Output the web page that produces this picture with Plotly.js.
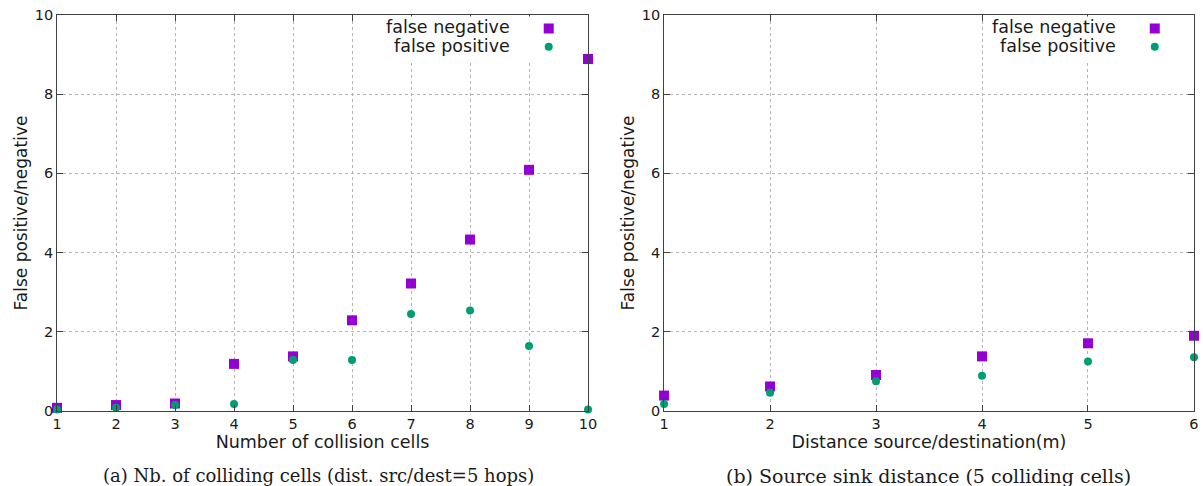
<!DOCTYPE html>
<html>
<head>
<meta charset="utf-8">
<script src="https://cdn.plot.ly/plotly-3.0.1.min.js"></script>
<style>html,body{margin:0;padding:0;background:#fff;}#chart{width:1203px;height:486px;}</style>
</head>
<body>
<div id="chart"></div>
<script>
// ---- data ----
const collisionCells = [1, 2, 3, 4, 5, 6, 7, 8, 9, 10];
const fnCells = [0.08, 0.15, 0.19, 1.19, 1.38, 2.29, 3.22, 4.33, 6.09, 8.89];
const fpCells = [0.04, 0.08, 0.15, 0.18, 1.29, 1.29, 2.45, 2.54, 1.64, 0.04];

const distances = [1, 2, 3, 4, 5, 6];
const fnDist = [0.39, 0.62, 0.91, 1.38, 1.71, 1.90];
const fpDist = [0.18, 0.46, 0.75, 0.89, 1.25, 1.36];

const seriesNames = ["false negative", "false positive"];
const xTitles = ["Number of collision cells", "Distance source/destination(m)"];
const yTitle = "False positive/negative";
const captions = ["(a) Nb. of colliding cells (dist. src/dest=5 hops)", "(b) Source sink distance (5 colliding cells)"];

// ---- styles ----
const purple = "#9400d3";
const green = "#009e73";
const axisCol = "#404040";
const gridCol = "#b4b4b4";
const sans = "DejaVu Sans, sans-serif";
const txtCol = "#1a1a1a";

function sq(x, y, xa, ya) {
  return {x: x, y: y, xaxis: xa, yaxis: ya, type: "scatter", mode: "markers", name: seriesNames[0],
    marker: {symbol: "square", size: 10, color: purple}, cliponaxis: false, showlegend: false};
}
function ci(x, y, xa, ya) {
  return {x: x, y: y, xaxis: xa, yaxis: ya, type: "scatter", mode: "markers", name: seriesNames[1],
    marker: {symbol: "circle", size: 8, color: green}, cliponaxis: false, showlegend: false};
}

const data = [
  sq(collisionCells, fnCells, "x", "y"),
  ci(collisionCells, fpCells, "x", "y"),
  sq(distances, fnDist, "x2", "y2"),
  ci(distances, fpDist, "x2", "y2")
];

function xAxis(domain, range, title, anchor) {
  return {domain: domain, range: range, dtick: 1, anchor: anchor,
    showgrid: true, gridcolor: gridCol, griddash: "dot", gridwidth: 1,
    showline: true, linecolor: axisCol, linewidth: 1, mirror: "ticks",
    ticks: "inside", ticklen: 6, tickcolor: axisCol, zeroline: false,
    tickfont: {family: sans, size: 14.5, color: txtCol},
    title: {text: title, font: {family: sans, size: 17.5, color: txtCol}, standoff: 0},
    automargin: false, fixedrange: true};
}
function yAxis(domain, anchor) {
  return {domain: domain, range: [0, 10], dtick: 2, anchor: anchor,
    showgrid: true, gridcolor: gridCol, griddash: "dot", gridwidth: 1,
    showline: true, linecolor: axisCol, linewidth: 1, mirror: "ticks",
    ticks: "inside", ticklen: 6, tickcolor: axisCol, zeroline: false,
    tickfont: {family: sans, size: 14.5, color: txtCol},
    title: {text: yTitle, font: {family: sans, size: 17, color: txtCol}, standoff: 2},
    automargin: false, fixedrange: true};
}

const yDom = [0.1543, 0.9691];
const layout = {
  width: 1203, height: 486,
  margin: {l: 0, r: 0, t: 0, b: 0},
  paper_bgcolor: "#fff", plot_bgcolor: "#fff",
  showlegend: false,
  xaxis: xAxis([0.0474, 0.4888], [1, 10], xTitles[0], "y"),
  yaxis: yAxis(yDom, "x"),
  xaxis2: xAxis([0.552, 0.9925], [1, 6], xTitles[1], "y2"),
  yaxis2: yAxis(yDom, "x2"),
  shapes: [],
  annotations: []
};

// legend boxes (gnuplot-style: text, then symbol at far right)
[["x", "y"], ["x2", "y2"]].forEach(function (p) {
  const xr = p[0] + " domain", yr = p[1] + " domain";
  layout.shapes.push({type: "rect", xref: xr, yref: yr, x0: 0.615, x1: 0.972, y0: 0.882, y1: 0.996,
    fillcolor: "#ffffff", line: {width: 0}, layer: "above"});
  layout.shapes.push({type: "rect", xref: xr, yref: yr, xsizemode: "pixel", ysizemode: "pixel",
    xanchor: 0.926, yanchor: 0.966, x0: -5, x1: 5, y0: -5, y1: 5,
    fillcolor: purple, line: {width: 0}, layer: "above"});
  layout.shapes.push({type: "circle", xref: xr, yref: yr, xsizemode: "pixel", ysizemode: "pixel",
    xanchor: 0.926, yanchor: 0.920, x0: -4, x1: 4, y0: -4, y1: 4,
    fillcolor: green, line: {width: 0}, layer: "above"});
  layout.annotations.push({xref: xr, yref: yr, x: 0.857, y: 0.970, xanchor: "right", yanchor: "middle",
    text: seriesNames[0], showarrow: false, font: {family: sans, size: 17.5, color: txtCol}});
  layout.annotations.push({xref: xr, yref: yr, x: 0.857, y: 0.923, xanchor: "right", yanchor: "middle",
    text: seriesNames[1], showarrow: false, font: {family: sans, size: 17.5, color: txtCol}});
});

// captions
layout.annotations.push({xref: "paper", yref: "paper", x: 0.2648, y: 0.0206, xanchor: "center", yanchor: "middle",
  text: captions[0], showarrow: false, font: {family: "DejaVu Serif, serif", size: 18, color: txtCol}});
layout.annotations.push({xref: "paper", yref: "paper", x: 0.7722, y: 0.0206, xanchor: "center", yanchor: "middle",
  text: captions[1], showarrow: false, font: {family: "DejaVu Serif, serif", size: 19, color: txtCol}});

Plotly.newPlot("chart", data, layout, {displayModeBar: false, staticPlot: true});
</script>
</body>
</html>
